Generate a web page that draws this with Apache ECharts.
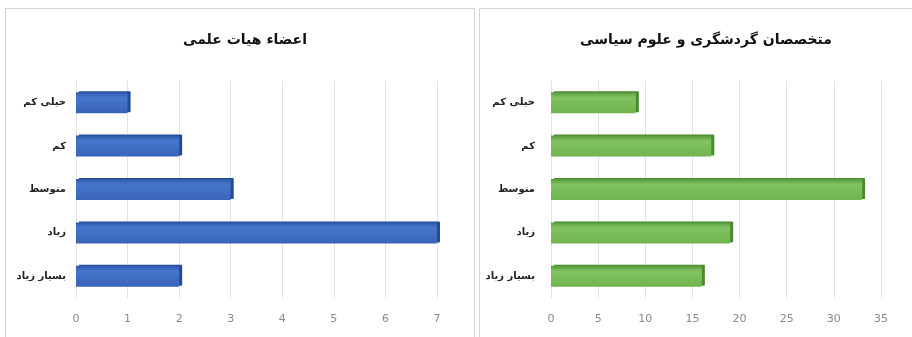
<!DOCTYPE html>
<html><head><meta charset="utf-8">
<script src="https://cdn.jsdelivr.net/npm/echarts@6/dist/echarts.min.js"></script>
<style>html,body{margin:0;padding:0;background:#fff}#c{width:912px;height:337px}</style>
</head><body><div id="c"></div>
<script>
const categories = ['خیلی کم', 'کم', 'متوسط', 'زیاد', 'بسیار زیاد'];
const facultyValues = [1, 2, 3, 7, 2];
const expertValues = [9, 17, 33, 19, 16];
const leftTicks = { min: 0, max: 7, interval: 1 };
const rightTicks = { min: 0, max: 35, interval: 5 };
const leftTitle = 'اعضاء هیات علمی';
const rightTitle = 'متخصصان گردشگری و علوم سیاسی';

const FONT = "'DejaVu Sans', 'Noto Sans', sans-serif";
const chart = echarts.init(document.getElementById('c'));

function grad(c1, c2, c3) {
  return new echarts.graphic.LinearGradient(0, 0, 0, 1, [
    { offset: 0, color: c1 }, { offset: 0.25, color: c2 }, { offset: 1, color: c3 }
  ]);
}
function xAxis(idx, t) {
  return {
    type: 'value', gridIndex: idx, min: t.min, max: t.max, interval: t.interval,
    axisLine: { show: false }, axisTick: { show: false },
    axisLabel: { color: '#8a8a8a', fontSize: 11, fontFamily: FONT, margin: 16 },
    splitLine: { lineStyle: { color: '#e3e3e3', width: 1 } }
  };
}
function yAxis(idx, margin) {
  return {
    type: 'category', gridIndex: idx, data: categories, inverse: true,
    axisLine: { show: false }, axisTick: { show: false },
    axisLabel: { color: '#222', fontSize: 10, fontWeight: 'bold', fontFamily: FONT, margin: margin }
  };
}

chart.setOption({
  animation: false,
  backgroundColor: '#fff',
  graphic: [
    { type: 'rect', shape: { x: 5.5, y: 8.5, width: 469, height: 340 }, style: { fill: 'none', stroke: '#d4d4d4', lineWidth: 1 }, z: -1 },
    { type: 'rect', shape: { x: 479.5, y: 8.5, width: 445, height: 340 }, style: { fill: 'none', stroke: '#d4d4d4', lineWidth: 1 }, z: -1 }
  ],
  title: [
    { text: leftTitle, left: 240, top: 28, textAlign: 'center',
      textStyle: { fontSize: 14, fontWeight: 'bold', color: '#111', fontFamily: FONT } },
    { text: rightTitle, left: 701, top: 28, textAlign: 'center',
      textStyle: { fontSize: 14, fontWeight: 'bold', color: '#111', fontFamily: FONT } }
  ],
  grid: [
    { left: 76, width: 361, top: 81, height: 217 },
    { left: 551, width: 330, top: 81, height: 217 }
  ],
  xAxis: [xAxis(0, leftTicks), xAxis(1, rightTicks)],
  yAxis: [yAxis(0, 10), yAxis(1, 16)],
  series: [
    { type: 'bar', xAxisIndex: 0, yAxisIndex: 0, data: facultyValues, barWidth: 21,
      itemStyle: { color: grad('#2e58a8', '#4676cc', '#3864b8'), borderRadius: [0, 1, 1, 0],
        shadowColor: '#234a94', shadowOffsetX: 3, shadowOffsetY: -1, shadowBlur: 0 } },
    { type: 'bar', xAxisIndex: 1, yAxisIndex: 1, data: expertValues, barWidth: 21,
      itemStyle: { color: grad('#54993a', '#82c262', '#6fb44e'), borderRadius: [0, 1, 1, 0],
        shadowColor: '#4a8a2e', shadowOffsetX: 3, shadowOffsetY: -1, shadowBlur: 0 } }
  ]
});
</script></body></html>
